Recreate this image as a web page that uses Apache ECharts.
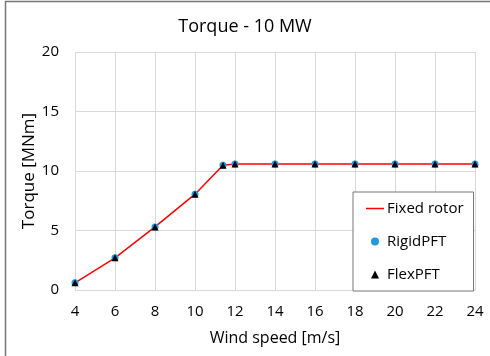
<!DOCTYPE html>
<html>
<head>
<meta charset="utf-8">
<script src="https://cdn.jsdelivr.net/npm/echarts@6/dist/echarts.min.js"></script>
<style>
html,body{margin:0;padding:0;background:#fff;}
#main{width:490px;height:356px;}
</style>
</head>
<body>
<div id="main"></div>
<script>
// 风速 / 扭矩数据
var windSpeed = [4, 6, 8, 10, 11.4, 12, 14, 16, 18, 20, 22, 24];
var fixedRotor = [0.6, 2.7, 5.3, 8.05, 10.48, 10.58, 10.58, 10.58, 10.58, 10.58, 10.58, 10.58];
var rigidPFT = [0.6, 2.7, 5.3, 8.05, 10.48, 10.58, 10.58, 10.58, 10.58, 10.58, 10.58, 10.58];
var flexPFT = [0.6, 2.7, 5.3, 8.05, 10.48, 10.58, 10.58, 10.58, 10.58, 10.58, 10.58, 10.58];

function pairs(xs, ys){
	return xs.map(function(x, i){ return [x, ys[i]]; });
}

var font = 'Open Sans';
var myChart = echarts.init(document.getElementById('main'));
var option = {
	animation: false,
	textStyle: { fontFamily: font },
	title: {
		text: 'Torque - 10 MW',
		left: 'center',
		top: 13,
		textStyle: { fontFamily: font, fontSize: 18, fontWeight: 'normal', color: '#000' }
	},
	graphic: [{
		type: 'rect',
		shape: { x: 5.5, y: 1.5, width: 600, height: 500 },
		style: { fill: 'none', stroke: '#767676', lineWidth: 1.5 },
		silent: true
	}],
	grid: { left: 75, right: 15, top: 52, bottom: 66, containLabel: false },
	legend: {
		orient: 'vertical',
		left: 353,
		top: 192,
		width: 122,
		height: 99,
		padding: [9, 10, 9, 13],
		itemGap: 18,
		itemWidth: 18,
		itemHeight: 8,
		symbolKeepAspect: true,
		borderColor: '#767676',
		borderWidth: 1,
		backgroundColor: '#fff',
		textStyle: { fontFamily: font, fontSize: 15, color: '#000', padding: [0, 0, 0, -2] },
		data: [
			{ name: 'Fixed rotor', icon: 'path://M0,0 L18,0 L18,1.5 L0,1.5 Z' },
			{ name: 'RigidPFT', icon: 'path://M0,3.5 A3.5,3.5 0 1 1 7,3.5 A3.5,3.5 0 1 1 0,3.5 Z' },
			{ name: 'FlexPFT', icon: 'path://M0,7 L3.5,0 L7,7 Z' }
		]
	},
	xAxis: {
		type: 'value',
		min: 4,
		max: 24,
		interval: 2,
		name: 'Wind speed [m/s]',
		nameLocation: 'middle',
		nameGap: 40,
		nameTextStyle: { fontFamily: font, fontSize: 16, color: '#000' },
		axisLine: { show: true, lineStyle: { color: '#d9d9d9' } },
		axisTick: { show: false },
		axisLabel: { fontFamily: font, fontSize: 15, color: '#000', margin: 14 },
		splitLine: { show: true, lineStyle: { color: '#d9d9d9' } }
	},
	yAxis: {
		type: 'value',
		min: 0,
		max: 20,
		interval: 5,
		name: 'Torque [MNm]',
		nameLocation: 'middle',
		nameGap: 37,
		nameMoveOverlap: false,
		nameTextStyle: { fontFamily: font, fontSize: 17, color: '#000' },
		axisLine: { show: false },
		axisTick: { show: false },
		axisLabel: { fontFamily: font, fontSize: 15, color: '#000', margin: 16 },
		splitLine: { show: true, lineStyle: { color: '#d9d9d9' } }
	},
	series: [
		{
			name: 'Fixed rotor',
			type: 'line',
			data: pairs(windSpeed, fixedRotor),
			showSymbol: false,
			symbol: 'none',
			lineStyle: { color: '#ff0000', width: 1.5 },
			itemStyle: { color: '#ff0000' },
			z: 2
		},
		{
			name: 'RigidPFT',
			type: 'line',
			data: pairs(windSpeed, rigidPFT),
			lineStyle: { width: 0, opacity: 0 },
			symbol: 'circle',
			symbolSize: 7,
			itemStyle: { color: '#1e9be0' },
			z: 3
		},
		{
			name: 'FlexPFT',
			type: 'line',
			data: pairs(windSpeed, flexPFT),
			lineStyle: { width: 0, opacity: 0 },
			symbol: 'triangle',
			symbolSize: 7,
			itemStyle: { color: '#000' },
			z: 4
		}
	]
};
myChart.setOption(option);
</script>
</body>
</html>
